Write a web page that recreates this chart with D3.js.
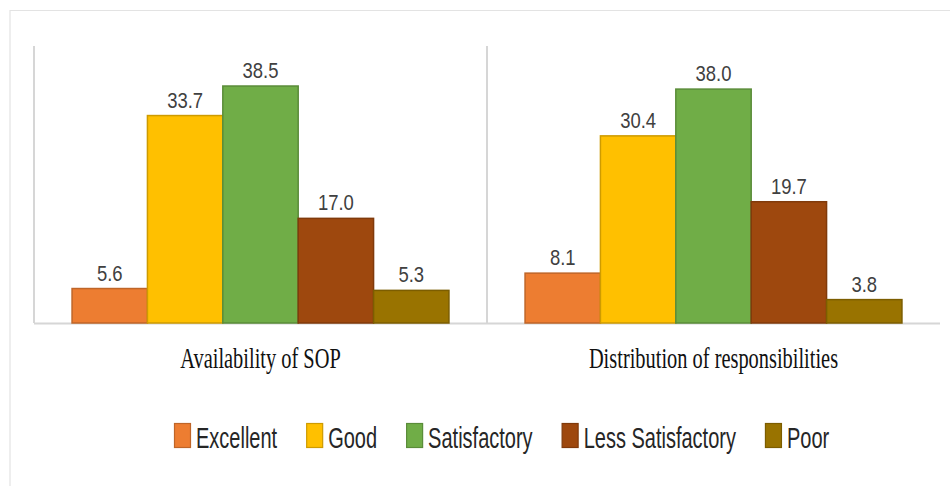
<!DOCTYPE html>
<html>
<head>
<meta charset="utf-8">
<script src="https://cdn.jsdelivr.net/npm/d3@7"></script>
<style>
body { margin: 0; background: #fff; }
</style>
</head>
<body>
<div id="drawing"></div>
<script>
"use strict"

/**** data ****/
let groups = ["Availability of SOP", "Distribution of responsibilities"]
let ratings = ["Excellent", "Good", "Satisfactory", "Less Satisfactory", "Poor"]
let sopValues = [5.6, 33.7, 38.5, 17.0, 5.3]
let distValues = [8.1, 30.4, 38.0, 19.7, 3.8]
let colors = ["#ED7D31", "#FFC000", "#70AD47", "#9E480E", "#997300"]

let seriesByGroup = [sopValues, distValues]

/**** sizes ****/
let svgWidth = 950
let svgHeight = 486
let plotLeft = 34
let plotRight = 940
let plotTop = 46
let baseY = 323

let svg = d3.select("#drawing")
.append("svg")
.attr("width", svgWidth)
.attr("height", svgHeight)

/* outer frame (only top and left edges visible) */
svg.append("path")
.attr("d", `M10,486 V10.5 H950`)
.attr("fill", "none")
.attr("stroke", "#e3e3e3")
.attr("stroke-width", 1.2)

/**** scales ****/
let x0 = d3.scaleBand()
.domain(groups)
.range([plotLeft, plotRight])
.paddingInner(0.168)
.paddingOuter(0.084)

let x1 = d3.scaleBand()
.domain(ratings)
.range([0, x0.bandwidth()])

let y = d3.scaleLinear()
.domain([0, 45])
.range([baseY, plotTop])

let color = d3.scaleOrdinal().domain(ratings).range(colors)

/**** axis lines ****/
let panelEdges = groups.map(g => x0(g) - x0.step() * x0.paddingOuter())

svg.selectAll("line.vaxis")
.data(panelEdges)
.join("line")
.attr("class", "vaxis")
.attr("x1", d => d)
.attr("x2", d => d)
.attr("y1", y(45))
.attr("y2", y(0))
.attr("stroke", "#d6d6d6")
.attr("stroke-width", 2)

svg.append("line")
.attr("x1", plotLeft)
.attr("x2", plotRight)
.attr("y1", y(0) + 0.5)
.attr("y2", y(0) + 0.5)
.attr("stroke", "#d6d6d6")
.attr("stroke-width", 2)

/**** bars ****/
let rows = []
groups.forEach((g, gi) => {
    ratings.forEach((r, ri) => {
        rows.push({group: g, rating: r, value: seriesByGroup[gi][ri]})
    })
})

svg.selectAll("rect.bar")
.data(rows)
.join("rect")
.attr("class", "bar")
.attr("x", d => x0(d.group) + x1(d.rating))
.attr("y", d => y(d.value))
.attr("width", x1.bandwidth())
.attr("height", d => y(0) - y(d.value))
.attr("fill", d => color(d.rating))
.attr("stroke", d => d3.color(color(d.rating)).darker(0.6))
.attr("stroke-width", 1.5)

/* value labels */
svg.selectAll("text.value")
.data(rows)
.join("text")
.attr("class", "value")
.attr("transform", d => `translate(${x0(d.group) + x1(d.rating) + x1.bandwidth() / 2},${y(d.value) - 8}) scale(0.84,1)`)
.attr("text-anchor", "middle")
.style("font-family", "Liberation Sans, Arial, sans-serif")
.style("font-size", "22px")
.attr("fill", "#404040")
.text(d => d.value.toFixed(1))

/**** category labels ****/
svg.selectAll("text.category")
.data(groups)
.join("text")
.attr("class", "category")
.attr("transform", d => `translate(${x0(d) + x0.bandwidth() / 2},368) scale(0.68,1)`)
.attr("text-anchor", "middle")
.style("font-family", "Liberation Serif, Times New Roman, serif")
.style("font-size", "30px")
.attr("fill", "#111")
.text(d => d)

/**** legend ****/
let legend = svg.append("g")
.attr("transform", "translate(174,423)")

let legendScale = 0.69
let cursor = 0
ratings.forEach((r, i) => {
    let item = legend.append("g")
    .attr("transform", `translate(${cursor},0)`)

    item.append("rect")
    .attr("x", 0.5)
    .attr("y", 0.5)
    .attr("width", 16)
    .attr("height", 24)
    .attr("fill", colors[i])
    .attr("stroke", d3.color(colors[i]).darker(0.6))
    .attr("stroke-width", 1.2)

    let label = item.append("text")
    .attr("transform", `translate(22,25) scale(${legendScale},1)`)
    .style("font-family", "Liberation Sans, Arial, sans-serif")
    .style("font-size", "29px")
    .attr("fill", "#262626")
    .text(r)

    let w = label.node().getComputedTextLength() * legendScale
    cursor += 22 + w + 29
})
</script>
</body>
</html>
